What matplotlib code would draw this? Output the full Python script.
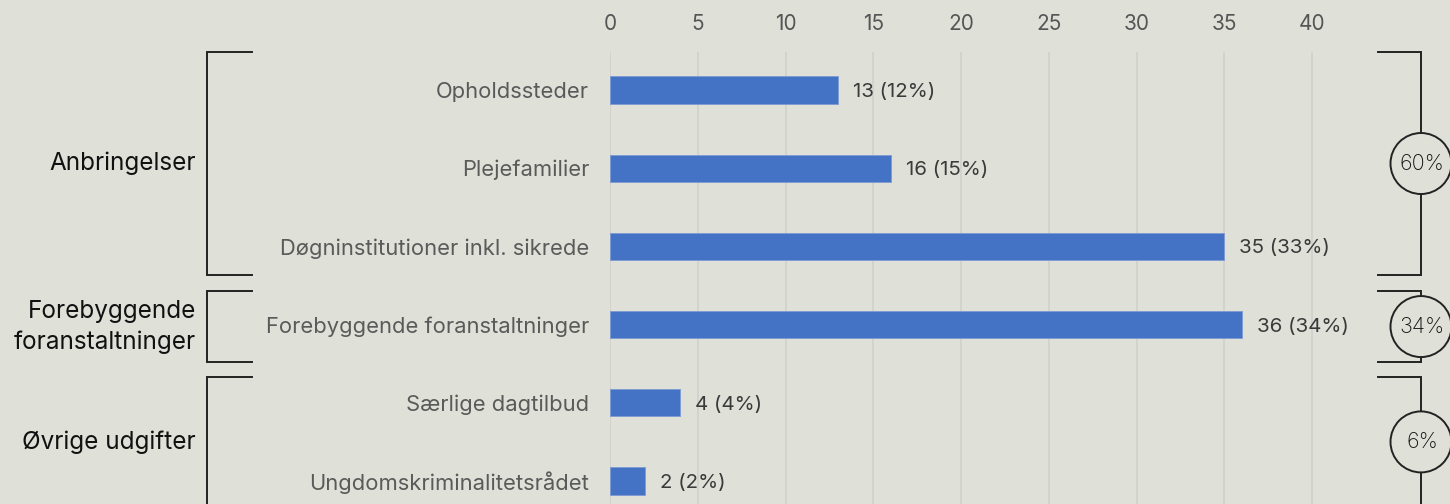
import matplotlib.pyplot as plt
import matplotlib.transforms as mtransforms
from matplotlib.patches import Ellipse

# data
categories = [
    "Opholdssteder",
    "Plejefamilier",
    "Døgninstitutioner inkl. sikrede",
    "Forebyggende foranstaltninger",
    "Særlige dagtilbud",
    "Ungdomskriminalitetsrådet",
]
counts = [13, 16, 35, 36, 4, 2]
shares = [12, 15, 33, 34, 4, 2]

groups = ["Anbringelser", "Forebyggende\nforanstaltninger", "Øvrige udgifter"]
group_shares = [60, 34, 6]
xticks = [0, 5, 10, 15, 20, 25, 30, 35, 40]

# layout (bracket extents in row units)
bracket_spans = [(-0.49, 2.37), (2.57, 3.48), (3.67, 5.33)]

bg = "#dfe1d8"
bar_color = "#4472c4"
line_color = "#222222"
font = "Inter"

plt.rcParams["font.family"] = [font, "DejaVu Sans"]

W, H = 1450, 504
fig = plt.figure(figsize=(W / 100, H / 100), dpi=100, facecolor=bg)
ax_left = 610 / W
ax_w = 42 * 17.55 / W
ax = fig.add_axes([ax_left, 0, ax_w, 1 - 52 / H], facecolor=bg)

y = list(range(len(categories)))
ax.barh(y, counts, height=0.35, color=bar_color, edgecolor="#7f9ad3", linewidth=0.6, zorder=3)
for yi, c, s in zip(y, counts, shares):
    ax.annotate(f"{c} ({s}%)", (c, yi), xytext=(15, 0), textcoords="offset pixels",
                va="center_baseline", ha="left", fontsize=14.8, color="#3a3a3a")

ax.set_xlim(0, 42)
ax.set_ylim(5.294, -0.486)
ax.set_xticks(xticks)
ax.xaxis.tick_top()
ax.tick_params(axis="x", length=0, pad=13, labelsize=15, labelcolor="#555555")
ax.set_yticks(y)
ax.set_yticklabels(categories)
ax.tick_params(axis="y", length=0, pad=15, labelsize=15.8, labelcolor="#5a5a5a")
ax.grid(axis="x", color="#d3d1cf", linewidth=1.3, zorder=0)
for sp in ax.spines.values():
    sp.set_visible(False)

trans = mtransforms.blended_transform_factory(fig.transFigure, ax.transData)
lx, lx2 = 207 / W, 252 / W
rx, rx1 = 1421 / W, 1378 / W
r_px = 30.5
for name, pct, (top, bot) in zip(groups, group_shares, bracket_spans):
    ax.plot([lx2, lx, lx, lx2], [top, top, bot, bot], transform=trans,
            color=line_color, lw=1.4, clip_on=False, solid_joinstyle="miter")
    ax.plot([rx1, rx, rx, rx1], [top, top, bot, bot], transform=trans,
            color=line_color, lw=1.4, clip_on=False, solid_joinstyle="miter")
    mid = (top + bot) / 2
    ax.text(196 / W, mid, name, transform=trans, ha="right", va="center",
            fontsize=17.5, color="#111111", linespacing=1.4)
    circ = Ellipse((rx, mid), 2 * r_px / W, 2 * r_px / 78.2, transform=trans,
                   facecolor=bg, edgecolor=line_color, lw=1.4, clip_on=False, zorder=5)
    ax.add_patch(circ)
    ax.text(rx + 1 / W, mid, f"{pct}%", transform=trans, ha="center", va="center",
            fontsize=15.5, color="#111111", fontweight="light", zorder=6)

fig.savefig("out.png", dpi=100, facecolor=bg)
